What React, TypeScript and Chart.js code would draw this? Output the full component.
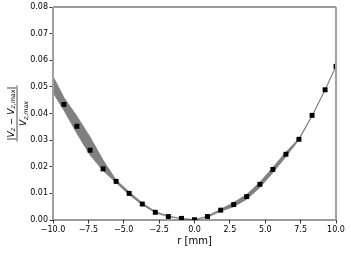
import React, { useEffect, useRef } from "react";
import Chart from "chart.js/auto";

// marker positions r [mm] and values
const rPoints = [-9.23, -8.31, -7.38, -6.46, -5.54, -4.62, -3.69, -2.77, -1.85, -0.92, 0, 0.92, 1.85, 2.77, 3.69, 4.62, 5.54, 6.46, 7.38, 8.31, 9.23, 10];
const vPoints = [0.0434, 0.0352, 0.0262, 0.0192, 0.0145, 0.0100, 0.0060, 0.0029, 0.0013, 0.0006, 0.0001, 0.0013, 0.0037, 0.0058, 0.0088, 0.0134, 0.0190, 0.0247, 0.0303, 0.0393, 0.0489, 0.0577];

// uncertainty band
const rBand = [-10, -9.23, -8.31, -7.38, -6.46, -5.54, -4.62, -3.69, -2.77, -1.85, -0.92, 0, 0.92, 1.85, 2.77, 3.69, 4.62, 5.54, 6.46, 7.38, 8.31, 9.23, 10];
const bandUpper = [0.0540, 0.0460, 0.0390, 0.0312, 0.0225, 0.0150, 0.0106, 0.0064, 0.0032, 0.0015, 0.0006, 0.0001, 0.0015, 0.0040, 0.0066, 0.0096, 0.0142, 0.0198, 0.0255, 0.0306, 0.0393, 0.0490, 0.0578];
const bandLower = [0.0478, 0.0412, 0.0325, 0.0244, 0.0185, 0.0140, 0.0095, 0.0057, 0.0027, 0.0012, 0.0005, 0.0001, 0.0010, 0.0033, 0.0050, 0.0078, 0.0122, 0.0178, 0.0238, 0.0301, 0.0390, 0.0488, 0.0576];

const xTitle = "r [mm]";
const FONT = "'DejaVu Sans', sans-serif";

type Part = { t: string; it?: boolean; sub?: boolean };
const numerParts: Part[] = [
  { t: "|" }, { t: "V", it: true }, { t: "z", it: true, sub: true },
  { t: " − " }, { t: "V", it: true }, { t: "z,max", it: true, sub: true }, { t: "|" },
];
const denomParts: Part[] = [{ t: "V", it: true }, { t: "z,max", it: true, sub: true }];

function partFont(p: Part, size: number) {
  const s = p.sub ? size * 0.7 : size;
  return `${p.it ? "italic " : ""}${s}px ${FONT}`;
}
function measureParts(ctx: CanvasRenderingContext2D, parts: Part[], size: number) {
  let w = 0;
  for (const p of parts) {
    ctx.font = partFont(p, size);
    w += ctx.measureText(p.t).width;
  }
  return w;
}
function drawParts(ctx: CanvasRenderingContext2D, parts: Part[], size: number, x: number, y: number) {
  for (const p of parts) {
    ctx.font = partFont(p, size);
    ctx.fillText(p.t, x, p.sub ? y + size * 0.22 : y);
    x += ctx.measureText(p.t).width;
  }
}

const decorPlugin = {
  id: "decor",
  afterDraw(chart: any) {
    const ctx: CanvasRenderingContext2D = chart.ctx;
    const { left, right, top, bottom } = chart.chartArea;
    ctx.save();
    // top / bottom spines
    ctx.strokeStyle = "#000";
    ctx.lineWidth = 0.8;
    ctx.beginPath();
    ctx.moveTo(left, top); ctx.lineTo(right, top);
    ctx.moveTo(left, bottom); ctx.lineTo(right, bottom);
    ctx.stroke();
    // gray vertical lines at the limits
    ctx.strokeStyle = "#a0a0a0";
    ctx.lineWidth = 2;
    ctx.beginPath();
    ctx.moveTo(left, top); ctx.lineTo(left, bottom);
    ctx.moveTo(right, top); ctx.lineTo(right, bottom);
    ctx.stroke();

    ctx.fillStyle = "#000";
    // x title
    ctx.font = `10px ${FONT}`;
    ctx.textAlign = "center";
    ctx.textBaseline = "middle";
    ctx.fillText(xTitle, (left + right) / 2, 241);

    // y title (fraction, rotated)
    const size = 9;
    const wn = measureParts(ctx, numerParts, size);
    const wd = measureParts(ctx, denomParts, size);
    const wl = Math.max(wn, wd) + 2;
    ctx.translate(17, (top + bottom) / 2);
    ctx.rotate(-Math.PI / 2);
    ctx.textAlign = "left";
    ctx.textBaseline = "alphabetic";
    drawParts(ctx, numerParts, size, -wn / 2, -3.5);
    drawParts(ctx, denomParts, size, -wd / 2, 9);
    ctx.strokeStyle = "#000";
    ctx.lineWidth = 0.7;
    ctx.beginPath();
    ctx.moveTo(-wl / 2, 0);
    ctx.lineTo(wl / 2, 0);
    ctx.stroke();
    ctx.restore();
  },
};

export default function App() {
  const ref = useRef<HTMLCanvasElement | null>(null);
  useEffect(() => {
    if (!ref.current) return;
    const chart = new Chart(ref.current, {
      type: "line",
      data: {
        datasets: [
          {
            data: rPoints.map((r, i) => ({ x: r, y: vPoints[i] })),
            showLine: false,
            pointStyle: "rect",
            pointRadius: 3.5,
            pointBackgroundColor: "#000",
            pointBorderColor: "#000",
            pointBorderWidth: 0,
            clip: 0,
            order: 0,
          } as any,
          {
            data: rBand.map((r, i) => ({ x: r, y: bandUpper[i] })),
            borderColor: "#808080",
            backgroundColor: "#808080",
            borderWidth: 0.8,
            pointRadius: 0,
            fill: "+1",
            tension: 0,
            clip: 0,
            order: 1,
          } as any,
          {
            data: rBand.map((r, i) => ({ x: r, y: bandLower[i] })),
            borderColor: "#808080",
            backgroundColor: "#808080",
            borderWidth: 0.8,
            pointRadius: 0,
            fill: false,
            tension: 0,
            clip: 0,
            order: 2,
          } as any,
        ],
      },
      options: {
        animation: false,
        responsive: false,
        devicePixelRatio: 1,
        layout: { padding: { top: 7, right: 15, left: 0, bottom: 0 } },
        plugins: { legend: { display: false }, tooltip: { enabled: false } },
        scales: {
          x: {
            type: "linear",
            min: -10,
            max: 10,
            border: { display: false },
            grid: { drawOnChartArea: false, drawTicks: true, tickLength: 3.5, tickColor: "#000", tickWidth: 0.8 },
            ticks: {
              stepSize: 2.5,
              color: "#000",
              padding: 2,
              maxRotation: 0,
              font: { family: FONT, size: 8 },
              callback: (v: any) => Number(v).toFixed(1).replace("-", "−"),
            },
            afterFit: (s: any) => { s.height = 33; },
          },
          y: {
            type: "linear",
            min: 0,
            max: 0.08,
            border: { display: false },
            grid: { drawOnChartArea: false, drawTicks: true, tickLength: 3.5, tickColor: "#000", tickWidth: 0.8 },
            ticks: {
              stepSize: 0.01,
              color: "#000",
              padding: 1.5,
              font: { family: FONT, size: 8 },
              callback: (v: any) => Number(v).toFixed(2),
            },
            afterFit: (s: any) => { s.width = 53; },
          },
        },
      } as any,
      plugins: [decorPlugin],
    });
    return () => chart.destroy();
  }, []);
  return (
    <div style={{ position: "fixed", left: 0, top: 0, width: 351, height: 253, background: "#fff" }}>
      <canvas ref={ref} width={351} height={253} style={{ width: 351, height: 253 }} />
    </div>
  );
}
